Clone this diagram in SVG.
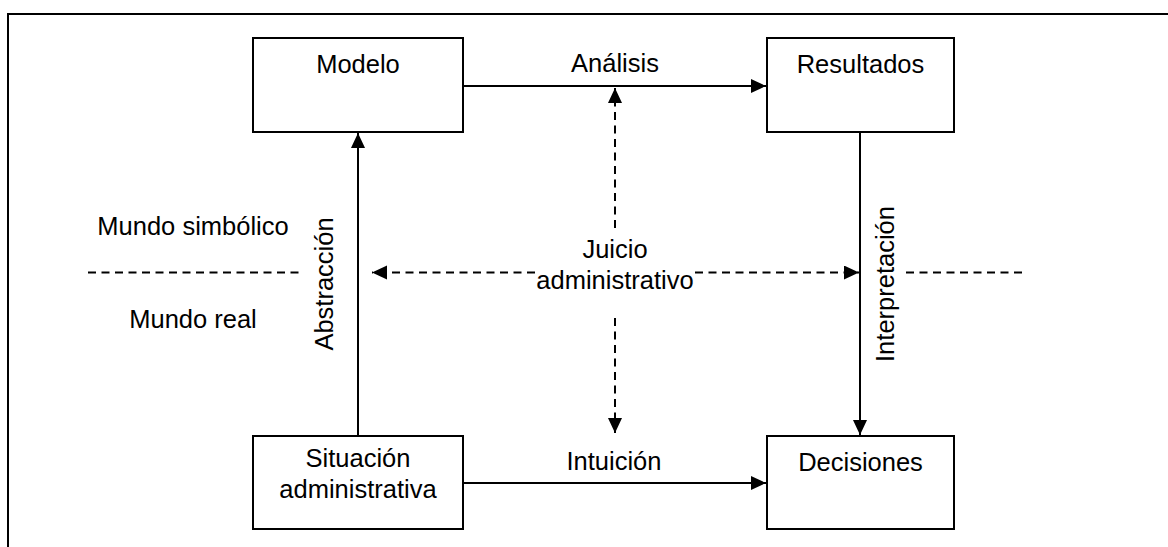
<svg xmlns="http://www.w3.org/2000/svg" width="1168" height="547" viewBox="0 0 1168 547">
  <style>
    .box { fill: #ffffff; stroke: #000000; stroke-width: 2; }
    .lbl { font-family: "Liberation Sans", Arial, sans-serif; font-size: 25.5px; fill: #000000; text-anchor: middle; }
    .solid { fill: none; stroke: #000000; stroke-width: 2; }
    .dash { fill: none; stroke: #000000; stroke-width: 2; stroke-dasharray: 8 5.5; }
  </style>
  <defs>
    <marker id="head" markerUnits="userSpaceOnUse" markerWidth="16" markerHeight="16" refX="15" refY="7" orient="auto-start-reverse">
      <path d="M0,0 L15,7 L0,14 Z" fill="#000000"/>
    </marker>
  </defs>

  <rect width="1168" height="547" fill="#ffffff"/>
  <!-- outer frame -->
  <path d="M8,560 L8,14 L1180,14" fill="none" stroke="#000000" stroke-width="2"/>

  <!-- world divider labels -->
  <g id="mundos">
    <text class="lbl" x="193" y="235">Mundo simbólico</text>
    <text class="lbl" x="193" y="328">Mundo real</text>
    <path class="dash" d="M88,272.5 H300"/>
    <path class="dash" d="M906,272.5 H1023"/>
  </g>

  <g id="connectors">
    <!-- Análisis -->
    <path class="solid" d="M463,86 H766" marker-end="url(#head)"/>
    <text class="lbl" x="615" y="72">Análisis</text>
    <!-- Intuición -->
    <path class="solid" d="M463,483 H766" marker-end="url(#head)"/>
    <text class="lbl" x="614" y="470">Intuición</text>
    <!-- Abstracción -->
    <path class="solid" d="M358,436 V133" marker-end="url(#head)"/>
    <text class="lbl" transform="translate(333,284) rotate(-90)">Abstracción</text>
    <!-- Interpretación -->
    <path class="solid" d="M860,132 V435" marker-end="url(#head)"/>
    <text class="lbl" transform="translate(894,284) rotate(-90)">Interpretación</text>
    <!-- Juicio administrativo -->
    <path class="dash" d="M615,228 V88" marker-end="url(#head)"/>
    <path class="dash" d="M615,318 V433" marker-end="url(#head)"/>
    <path class="dash" d="M535,272.5 H372" marker-end="url(#head)"/>
    <path class="dash" d="M695,272.5 H859" marker-end="url(#head)"/>
    <text class="lbl" x="615" y="258">Juicio</text>
    <text class="lbl" x="615" y="289">administrativo</text>
  </g>

  <g id="modelo">
    <rect class="box" x="253" y="38" width="210" height="94"/>
    <text class="lbl" x="358" y="72.5">Modelo</text>
  </g>
  <g id="resultados">
    <rect class="box" x="767" y="38" width="187" height="94"/>
    <text class="lbl" x="860.5" y="72.5">Resultados</text>
  </g>
  <g id="situacion">
    <rect class="box" x="253" y="436" width="210" height="93"/>
    <text class="lbl" x="358" y="467">Situación</text>
    <text class="lbl" x="358" y="498">administrativa</text>
  </g>
  <g id="decisiones">
    <rect class="box" x="767" y="436" width="187" height="93"/>
    <text class="lbl" x="860.5" y="471">Decisiones</text>
  </g>
</svg>
